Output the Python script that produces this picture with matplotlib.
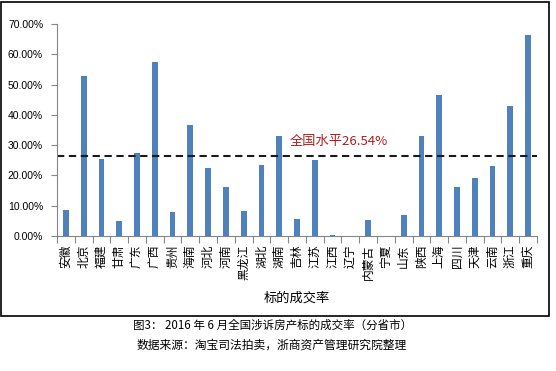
import matplotlib
matplotlib.use("Agg")
import matplotlib.pyplot as plt
import numpy as np
from matplotlib.patches import Rectangle
from matplotlib.ticker import FixedLocator, FuncFormatter

plt.rcParams['font.family'] = ['Noto Sans CJK SC', 'DejaVu Sans']

provinces = ["安徽", "北京", "福建", "甘肃", "广东", "广西", "贵州", "海南", "河北", "河南",
             "黑龙江", "湖北", "湖南", "吉林", "江苏", "江西", "辽宁", "内蒙古", "宁夏", "山东",
             "陕西", "上海", "四川", "天津", "云南", "浙江", "重庆"]
rates = [8.5, 52.9, 25.5, 4.9, 27.5, 57.3, 7.8, 36.5, 22.3, 16.1,
         8.2, 23.3, 33.1, 5.5, 25.0, 0.4, 0.0, 5.2, 0.0, 6.8,
         33.1, 46.4, 16.1, 19.0, 23.0, 42.8, 66.5]
national_avg = 26.54
yticks = [0, 10, 20, 30, 40, 50, 60, 70]
annotation = "全国水平26.54%"
xlabel = "标的成交率"
caption1 = "图3： 2016 年 6 月全国涉诉房产标的成交率（分省市）"
caption2 = "数据来源：淘宝司法拍卖，浙商资产管理研究院整理"

W, H = 556, 371
fig = plt.figure(figsize=(W / 100, H / 100), dpi=100)
fig.patch.set_facecolor("white")

def fx(px):
    return px / W

def fy(py):
    return 1 - py / H

# outer border
fig.patches.append(Rectangle((fx(1), fy(316)), fx(548), 314 / H, transform=fig.transFigure,
                             fill=False, edgecolor="black", linewidth=1.2))

ax = fig.add_axes([fx(57), fy(236), fx(537) - fx(57), (236 - 24) / H])
x = np.arange(len(provinces))
ax.bar(x, rates, width=0.33, color="#4F81BD")
ax.axhline(national_avg, color="#1a1a1a", linewidth=1.5, linestyle=(0, (3.5, 2.2)))

ax.set_xlim(-0.5, len(provinces) - 0.5)
ax.set_ylim(0, 70)

for s in ["top", "right"]:
    ax.spines[s].set_visible(False)
for s in ["left", "bottom"]:
    ax.spines[s].set_color("#868686")
    ax.spines[s].set_linewidth(0.8)

ax.yaxis.set_major_locator(FixedLocator(yticks))
ax.yaxis.set_major_formatter(FuncFormatter(lambda v, p: f"{v:.2f}%"))
ax.tick_params(axis="y", length=4, width=0.8, color="#868686", pad=6, labelsize=7.5)
for lbl in ax.get_yticklabels():
    lbl.set_family(["Liberation Sans", "DejaVu Sans"])

ax.set_xticks(np.arange(len(provinces) + 1) - 0.5)
ax.set_xticklabels([])
ax.tick_params(axis="x", which="major", length=5, width=0.8, color="#868686")
ax.set_xticks(x, minor=True)
ax.set_xticklabels(provinces, minor=True, rotation=90, va="top", ha="center", fontsize=8.5)
ax.tick_params(axis="x", which="minor", length=0, pad=6)

fig.text(fx(297), fy(298), xlabel, ha="center", va="center", fontsize=9.5)
fig.text(fx(290), fy(142), annotation, ha="left", va="center", fontsize=9.5, color="#B01C1C")

fig.text(fx(273), fy(325), caption1, ha="center", va="center", fontsize=8.3)
fig.text(fx(272), fy(345), caption2, ha="center", va="center", fontsize=8.5, fontweight="medium")

fig.savefig("out.png", dpi=100)
